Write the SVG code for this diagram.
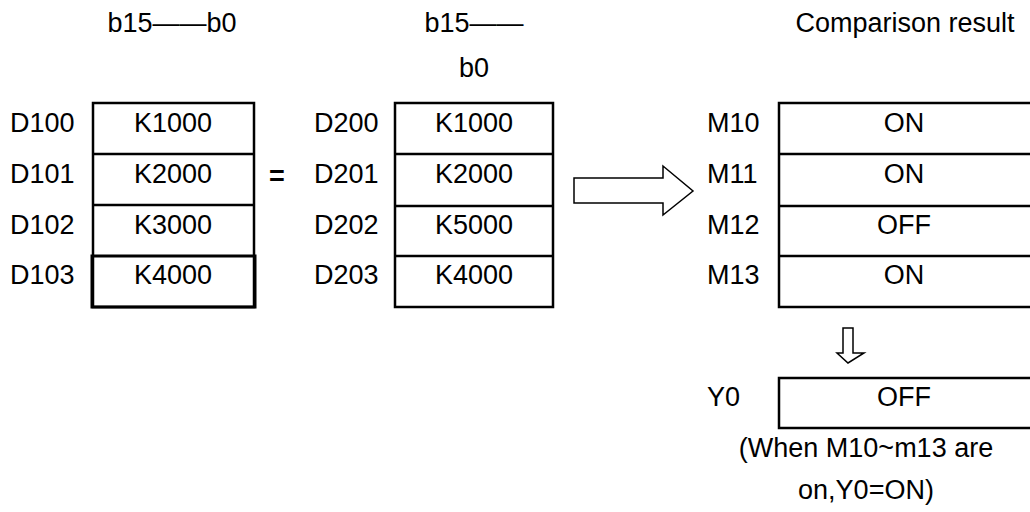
<svg xmlns="http://www.w3.org/2000/svg" width="1030" height="512" viewBox="0 0 1030 512">
<style>
text{font-family:"Liberation Sans",Arial,sans-serif;font-size:27px;fill:#000}
.c{text-anchor:middle}
.box{fill:none;stroke:#000;stroke-width:2.5}
.thick{fill:none;stroke:#000;stroke-width:3}
.arr{fill:#fff;stroke:#000;stroke-width:1.5}
</style>
<rect width="1030" height="512" fill="#fff"/>
<g id="headers">
<text class="c" x="172" y="32">b15——b0</text>
<text class="c" x="474" y="32">b15——</text>
<text class="c" x="474" y="77">b0</text>
<text class="c" x="905" y="32">Comparison result</text>
</g>
<g id="table-D100">
<rect class="box" x="93" y="103" width="161" height="204"/>
<line class="box" x1="93" y1="154" x2="254" y2="154"/>
<line class="box" x1="93" y1="205" x2="254" y2="205"/>
<rect class="thick" x="92" y="256" width="163" height="51"/>
<text x="10" y="132">D100</text><text class="c" x="173" y="132">K1000</text>
<text x="10" y="183">D101</text><text class="c" x="173" y="183">K2000</text>
<text x="10" y="234">D102</text><text class="c" x="173" y="234">K3000</text>
<text x="10" y="284">D103</text><text class="c" x="173" y="284">K4000</text>
</g>
<g id="equals">
<text class="c" x="277" y="185" style="font-weight:bold">=</text>
</g>
<g id="table-D200">
<rect class="box" x="395" y="103" width="158" height="204"/>
<line class="box" x1="395" y1="154" x2="553" y2="154"/>
<line class="box" x1="395" y1="206" x2="553" y2="206"/>
<line class="box" x1="395" y1="256" x2="553" y2="256"/>
<text x="314" y="132">D200</text><text class="c" x="474" y="132">K1000</text>
<text x="314" y="183">D201</text><text class="c" x="474" y="183">K2000</text>
<text x="314" y="234">D202</text><text class="c" x="474" y="234">K5000</text>
<text x="314" y="284">D203</text><text class="c" x="474" y="284">K4000</text>
</g>
<g id="connectors">
<polygon class="arr" points="574,178 663,178 663,166 693,191 663,215 663,203 574,203"/>
<polygon class="arr" points="843,328 853,328 853,353 864,353 848,363 837,353 843,353"/>
</g>
<g id="table-M10">
<rect class="box" x="779" y="103" width="260" height="204"/>
<line class="box" x1="779" y1="154" x2="1030" y2="154"/>
<line class="box" x1="779" y1="206" x2="1030" y2="206"/>
<line class="box" x1="779" y1="256" x2="1030" y2="256"/>
<text x="707" y="132">M10</text><text class="c" x="904" y="132">ON</text>
<text x="707" y="183">M11</text><text class="c" x="904" y="183">ON</text>
<text x="707" y="234">M12</text><text class="c" x="904" y="234">OFF</text>
<text x="707" y="284">M13</text><text class="c" x="904" y="284">ON</text>
</g>
<g id="Y0">
<rect class="box" x="779" y="378" width="260" height="50"/>
<text x="707" y="406">Y0</text><text class="c" x="904" y="406">OFF</text>
</g>
<g id="note">
<text class="c" x="866" y="457">(When M10~m13 are</text>
<text class="c" x="866" y="499">on,Y0=ON)</text>
</g>
</svg>
